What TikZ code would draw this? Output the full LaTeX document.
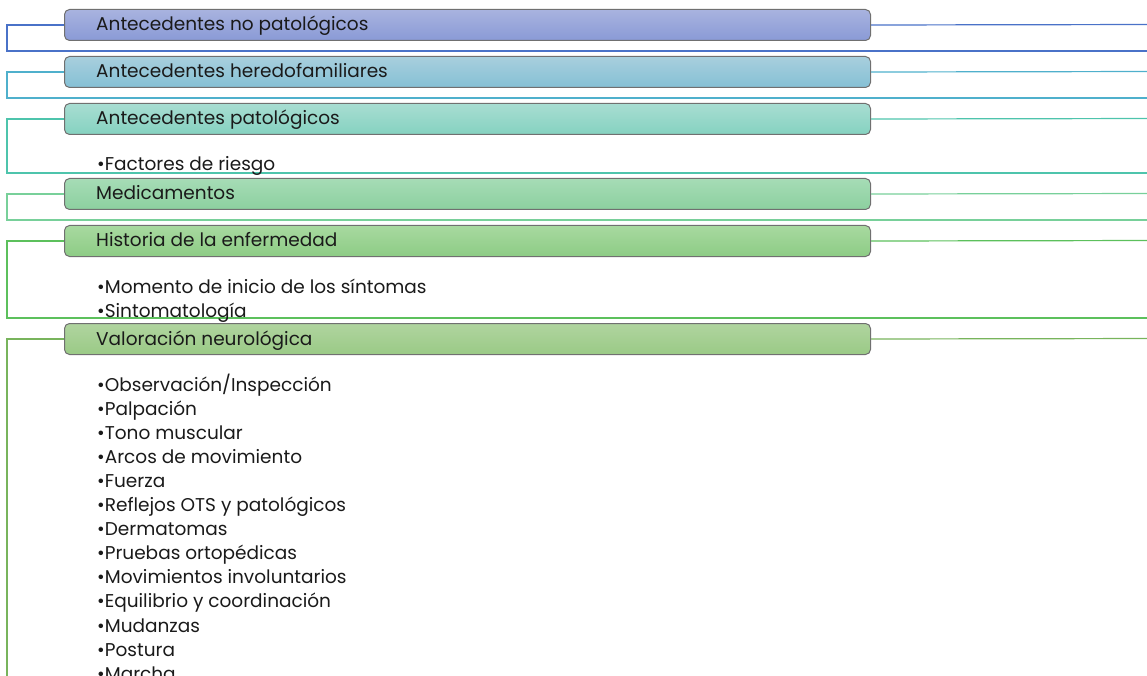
\documentclass[tikz,border=0pt]{standalone}
\usepackage{fontspec}
\setmainfont{Poppins}
\definecolor{bord}{HTML}{707070}
\definecolor{txt}{HTML}{1A1A1A}
\definecolor{l1}{HTML}{4A72C8}
\definecolor{l2}{HTML}{4FB0CC}
\definecolor{l3}{HTML}{4EC4AC}
\definecolor{l4}{HTML}{78D09A}
\definecolor{l5}{HTML}{5CC05C}
\definecolor{l6}{HTML}{78B45C}
\definecolor{t1}{HTML}{A9B3DF}\definecolor{b1}{HTML}{8A9AD6}
\definecolor{t2}{HTML}{A8CFDD}\definecolor{b2}{HTML}{85C0D5}
\definecolor{t3}{HTML}{A8DDD2}\definecolor{b3}{HTML}{85D2C0}
\definecolor{t4}{HTML}{A6DCB6}\definecolor{b4}{HTML}{8CD09F}
\definecolor{t5}{HTML}{A8D9A0}\definecolor{b5}{HTML}{8DCC85}
\definecolor{t6}{HTML}{B0D49F}\definecolor{b6}{HTML}{9ACA86}
\begin{document}
\begin{tikzpicture}[x=1pt,y=-1pt,
  hdr/.style={draw=bord, line width=1pt, rounded corners=5pt, anchor=north west,
    minimum height=31pt, minimum width=806pt, inner sep=0pt},
  lbl/.style={anchor=base west, inner sep=0pt, font=\fontsize{18.5}{20}\selectfont, text=txt},
  grp/.style={line width=1.2pt}]
\useasboundingbox (0,0) rectangle (1147,676);
\clip (0,0) rectangle (1147,676);
\coordinate (r1) at (1160,51);
\coordinate (r2) at (1160,98);
\coordinate (r3) at (1160,173);
\coordinate (r4) at (1160,220);
\coordinate (r5) at (1160,318);
\coordinate (r6) at (7,700);
% header boxes
\node[hdr, top color=t1, bottom color=b1] (h1) at (64,9) {};
\node[hdr, top color=t2, bottom color=b2] (h2) at (64,56) {};
\node[hdr, top color=t3, bottom color=b3] (h3) at (64,103) {};
\node[hdr, top color=t4, bottom color=b4] (h4) at (64,178) {};
\node[hdr, top color=t5, bottom color=b5] (h5) at (64,225) {};
\node[hdr, top color=t6, bottom color=b6] (h6) at (64,323) {};
% group outlines
\draw[grp, l1] (h1.west) -| (7,51) -- (r1);
\draw[grp, l1] (h1.east) -- (1160,24.5);
\draw[grp, l2] (h2.west) -| (7,98) -- (r2);
\draw[grp, l2] (h2.east) -- (1160,71.5);
\draw[grp, l3] (h3.west) -| (7,173) -- (r3);
\draw[grp, l3] (h3.east) -- (1160,118.5);
\draw[grp, l4] (h4.west) -| (7,220) -- (r4);
\draw[grp, l4] (h4.east) -- (1160,193.5);
\draw[grp, l5] (h5.west) -| (7,318) -- (r5);
\draw[grp, l5] (h5.east) -- (1160,240.5);
\draw[grp, l6] (h6.west) -| (r6);
\draw[grp, l6] (h6.east) -- (1160,338.5);
% header labels
\node[lbl] (ht1) at (96,31) {Antecedentes no patológicos};
\node[lbl] (ht2) at (96,78) {Antecedentes heredofamiliares};
\node[lbl] (ht3) at (96,125) {Antecedentes patológicos};
\node[lbl] (ht4) at (96,200) {Medicamentos};
\node[lbl] (ht5) at (96,247) {Historia de la enfermedad};
\node[lbl] (ht6) at (96,345) {Valoración neurológica};
% items
\node[lbl] (i31) at (97,171) {•Factores de riesgo};
\node[lbl] (i51) at (97,293) {•Momento de inicio de los síntomas};
\node[lbl] (i52) at (97,317) {•Sintomatología};
\node[lbl] (i61) at (97,391) {•Observación/Inspección};
\node[lbl] (i62) at (97,415.1) {•Palpación};
\node[lbl] (i63) at (97,439.2) {•Tono muscular};
\node[lbl] (i64) at (97,463.3) {•Arcos de movimiento};
\node[lbl] (i65) at (97,487.4) {•Fuerza};
\node[lbl] (i66) at (97,511.5) {•Reflejos OTS y patológicos};
\node[lbl] (i67) at (97,535.6) {•Dermatomas};
\node[lbl] (i68) at (97,559.7) {•Pruebas ortopédicas};
\node[lbl] (i69) at (97,583.8) {•Movimientos involuntarios};
\node[lbl] (i610) at (97,607.9) {•Equilibrio y coordinación};
\node[lbl] (i611) at (97,632) {•Mudanzas};
\node[lbl] (i612) at (97,656.1) {•Postura};
\node[lbl] (i613) at (97,680.2) {•Marcha};
\end{tikzpicture}
\end{document}
